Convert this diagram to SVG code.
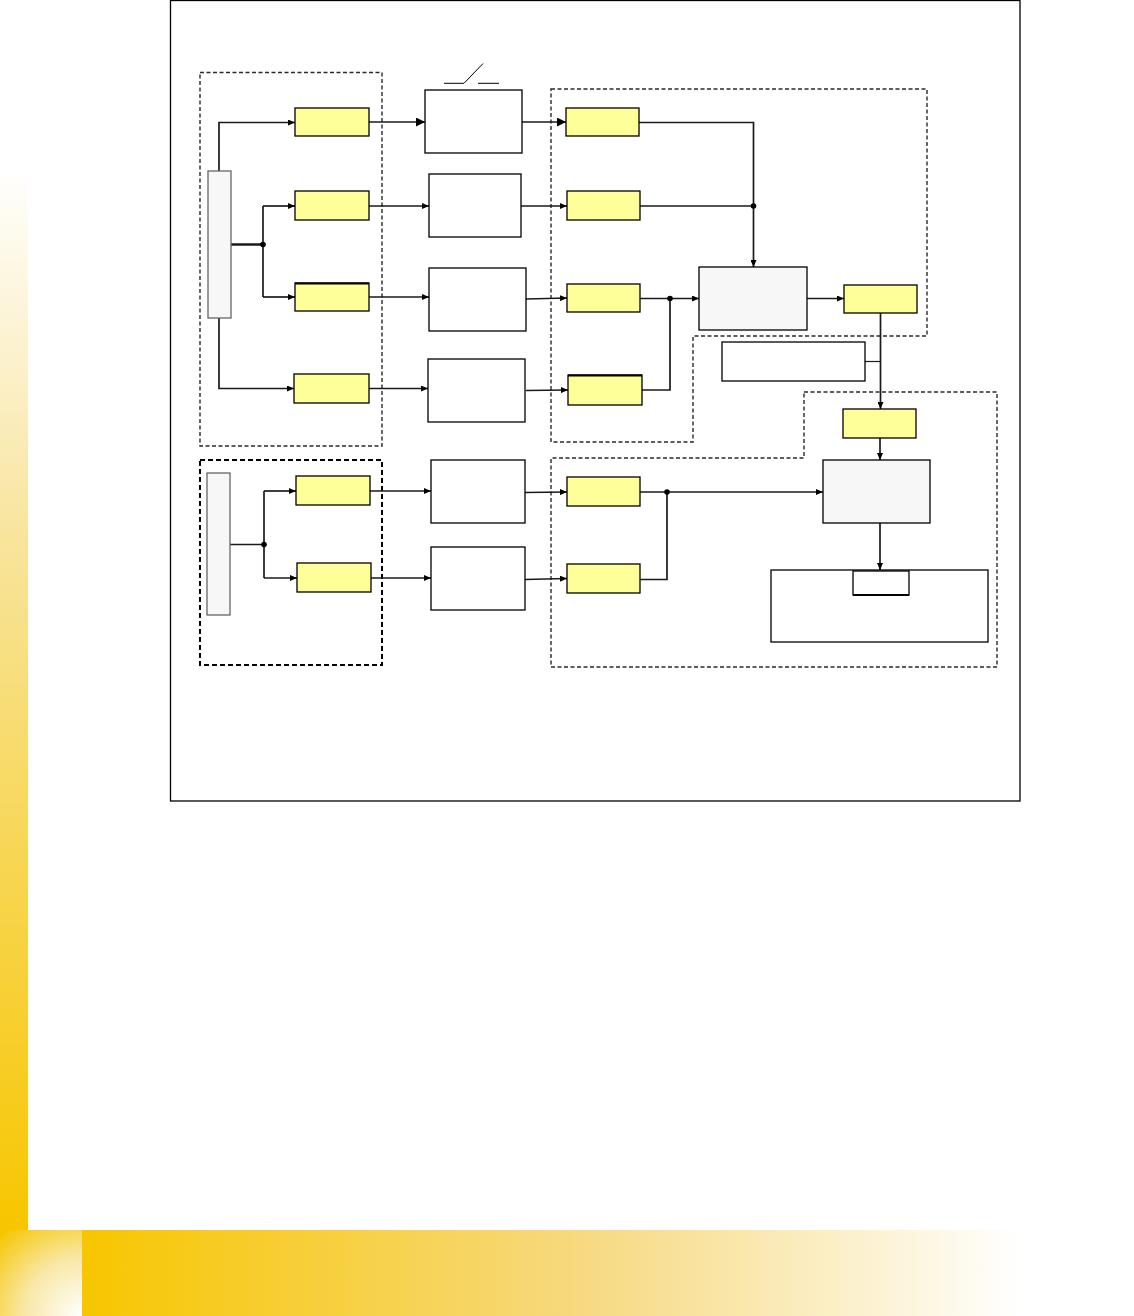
<svg xmlns="http://www.w3.org/2000/svg" width="1134" height="1316" viewBox="0 0 1134 1316">
<style>
.y{fill:#FFFF99;stroke:#000;stroke-width:1.3}
.w{fill:#fff;stroke:#000;stroke-width:1.3}
.g{fill:#F7F7F7;stroke:#000;stroke-width:1.3}
.bar{fill:#F7F7F7;stroke:#666;stroke-width:1.3}
.dash{fill:none;stroke:#2a2a2a;stroke-width:1.4;stroke-dasharray:4 2.5}
.dash2{fill:none;stroke:#000;stroke-width:2;stroke-dasharray:5 3}
.c{fill:none;stroke:#1a1a1a;stroke-width:1.7}
.a{marker-end:url(#ar)}
.ab{marker-end:url(#arb)}
.dot{fill:#000}
</style>
<defs>
<marker id="ar" markerUnits="userSpaceOnUse" markerWidth="7" markerHeight="6" refX="7" refY="3" orient="auto"><path d="M0,0 L7,3 L0,6 z" fill="#000"/></marker>
<marker id="arb" markerUnits="userSpaceOnUse" markerWidth="9" markerHeight="9" refX="9" refY="4.5" orient="auto"><path d="M0,0 L9,4.5 L0,9 z" fill="#000"/></marker>
<linearGradient id="gv" x1="0" y1="0" x2="0" y2="1">
<stop offset="0" stop-color="#FFFFFF"/>
<stop offset="0.35" stop-color="#F8E49C"/>
<stop offset="1" stop-color="#F7C600"/>
</linearGradient>
<linearGradient id="gh" x1="0" y1="0" x2="1" y2="0">
<stop offset="0" stop-color="#F7C600"/>
<stop offset="0.55" stop-color="#F7DA84"/>
<stop offset="0.8" stop-color="#FBEFC6"/>
<stop offset="1" stop-color="#FFFFFF"/>
</linearGradient>
<radialGradient id="gr" gradientUnits="userSpaceOnUse" cx="82" cy="1316" r="115">
<stop offset="0" stop-color="#FFFFFF"/>
<stop offset="0.5" stop-color="#F9E8A8"/>
<stop offset="1" stop-color="#F7C600"/>
</radialGradient>
</defs>
<rect width="1134" height="1316" fill="#fff"/>
<g id="background">
<rect x="0" y="167" width="28" height="1063" fill="url(#gv)"/>
<rect x="82" y="1230" width="938" height="86" fill="url(#gh)"/>
<rect x="0" y="1230" width="82" height="86" fill="url(#gr)"/>
</g>
<rect id="frame" x="170.5" y="0.5" width="849.5" height="800.5" fill="none" stroke="#000" stroke-width="1.3"/>
<g id="regions">
<rect id="region-left-top" class="dash" x="200" y="72.5" width="182" height="373.5"/>
<rect id="region-left-bottom" class="dash2" x="200" y="460" width="182" height="205"/>
<path id="region-right-top" class="dash" d="M551,89 H927 V336 H693 V442 H551 Z"/>
<path id="region-right-bottom" class="dash" d="M804,392 H997 V667 H551 V458 H804 Z"/>
</g>
<g id="connectors">
<path class="c a" d="M219,171 V122.5 H295"/>
<path class="c a" d="M219,318 V388.5 H294"/>
<path class="c" style="stroke-width:2.5" d="M231,244.5 H263"/>
<path class="c" d="M263,206 V297"/>
<path class="c a" d="M263,206 H295"/>
<path class="c a" d="M263,297 H295"/>
<path class="c ab" d="M369,122 H425"/>
<path class="c a" d="M369,206 H429"/>
<path class="c a" d="M369,297 H429"/>
<path class="c a" d="M369,388.5 H428"/>
<path class="c ab" d="M522,122 H566"/>
<path class="c a" d="M521,206 H567"/>
<path class="c a" d="M526,299 L567,298"/>
<path class="c a" d="M526,390.5 L568,390"/>
<path class="c a" d="M639,122.5 H753.5 V267"/>
<path class="c" d="M640,206 H753.5"/>
<path class="c a" d="M640,298.5 H699"/>
<path class="c" d="M642,390 H670 V298.5"/>
<path class="c a" d="M807,298.5 H844"/>
<path class="c a" d="M880.5,313 V409"/>
<path class="c" style="stroke-width:1.2" d="M865,361.5 H880.5"/>
<path class="c a" d="M880,438 V460"/>
<path class="c a" d="M880,523 V570"/>
<path class="c" d="M230,544.5 H264"/>
<path class="c" d="M264,491 V578"/>
<path class="c a" d="M264,491 H296"/>
<path class="c a" d="M264,578 H297"/>
<path class="c a" d="M370,491 H431"/>
<path class="c a" d="M371,578 H431"/>
<path class="c a" d="M525,492.5 L567,492"/>
<path class="c a" d="M525,579.5 L567,578.5"/>
<path class="c a" d="M640,492 H823"/>
<path class="c" d="M640,579.5 H667 V492"/>
<circle class="dot" cx="263" cy="244.5" r="2.8"/>
<circle class="dot" cx="753.5" cy="206" r="2.8"/>
<circle class="dot" cx="670" cy="298.5" r="2.8"/>
<circle class="dot" cx="264" cy="544.5" r="2.8"/>
<circle class="dot" cx="667" cy="492" r="2.8"/>
</g>
<g id="bar1"><rect class="bar" x="208" y="171" width="23" height="147"/></g>
<g id="bar2"><rect class="bar" x="207" y="473" width="23" height="142"/></g>
<g id="a1"><rect class="y" x="295" y="108" width="74" height="28"/></g>
<g id="a2"><rect class="y" x="295" y="191" width="74" height="29"/></g>
<g id="a3"><rect class="y" x="295" y="283" width="74" height="28"/><line x1="295" y1="283.5" x2="369" y2="283.5" stroke="#000" stroke-width="2"/></g>
<g id="a4"><rect class="y" x="294" y="374" width="75" height="29"/></g>
<g id="l5"><rect class="y" x="296" y="476" width="74" height="29"/></g>
<g id="l6"><rect class="y" x="297" y="563" width="74" height="29"/></g>
<g id="w1"><rect class="w" x="425" y="90" width="97" height="63"/></g>
<g id="switch" fill="none" stroke="#000" stroke-width="1"><path d="M444,83.3 H464 L483,63.5"/><path d="M478,83.3 H499"/></g>
<g id="w2"><rect class="w" x="429" y="174" width="92" height="63"/></g>
<g id="w3"><rect class="w" x="429" y="268" width="97" height="63"/></g>
<g id="w4"><rect class="w" x="428" y="359" width="97" height="63"/></g>
<g id="w5"><rect class="w" x="431" y="460" width="94" height="63"/></g>
<g id="w6"><rect class="w" x="431" y="547" width="94" height="63"/></g>
<g id="b1"><rect class="y" x="566" y="108" width="73" height="28"/></g>
<g id="b2"><rect class="y" x="567" y="191" width="73" height="29"/></g>
<g id="b3"><rect class="y" x="567" y="284" width="73" height="28"/></g>
<g id="b4"><rect class="y" x="568" y="375" width="74" height="30"/><line x1="568" y1="375.5" x2="642" y2="375.5" stroke="#000" stroke-width="2"/></g>
<g id="b5"><rect class="y" x="567" y="477" width="73" height="29"/></g>
<g id="b6"><rect class="y" x="567" y="564" width="73" height="29"/></g>
<g id="g1"><rect class="g" x="699" y="267" width="108" height="63"/></g>
<g id="c1"><rect class="y" x="844" y="285" width="73" height="28"/></g>
<g id="t1"><rect class="w" x="722" y="342" width="143" height="39"/></g>
<g id="c2"><rect class="y" x="843" y="409" width="73" height="29"/></g>
<g id="g2"><rect class="g" x="823" y="460" width="107" height="63"/></g>
<g id="d1"><rect class="w" x="771" y="570" width="217" height="72"/></g>
<g id="d1-inner"><rect class="w" x="853" y="571" width="56" height="24"/><line x1="853" y1="595" x2="909" y2="595" stroke="#000" stroke-width="2"/></g>
</svg>
